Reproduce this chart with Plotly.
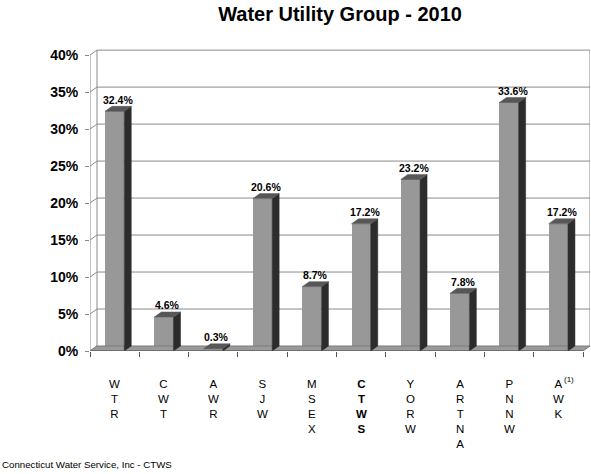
import plotly.graph_objects as go

# ---- data ----
categories = ["WTR", "CWT", "AWR", "SJW", "MSEX", "CTWS", "YORW", "ARTNA", "PNNW", "AWK"]
values = [32.4, 4.6, 0.3, 20.6, 8.7, 17.2, 23.2, 7.8, 33.6, 17.2]
ytick_vals = [0, 5, 10, 15, 20, 25, 30, 35, 40]
ytick_text = ["0%", "5%", "10%", "15%", "20%", "25%", "30%", "35%", "40%"]
bold_category = "CTWS"
footnote_category = "AWK"
title_text = "Water Utility Group - 2010"
footer_text = "Connecticut Water Service, Inc - CTWS"

# ---- style / geometry ----
FONT = "Arial, 'Liberation Sans', sans-serif"
W, H = 591, 474
ML, MR = 90, 1
BASE_Y = 351          # pixel of 0%
PX_PER_UNIT = 7.4     # pixels per percent
DX_PX, DY_PX = 7, 5   # 3D depth offset
n = len(categories)
plot_w = W - ML - MR
cat_px = plot_w / (n + DX_PX / 49.4)
dx = DX_PX / cat_px
dy = DY_PX / PX_PER_UNIT
ymax = 40 + dy + 0.15
plot_h = ymax * PX_PER_UNIT
MT = BASE_Y - plot_h
MB = H - BASE_Y
bw = 0.39

FRONT = "#989898"
SIDE = "#2c2c2c"
TOP = "#575757"
GRID = "#8a8a8a"

xs = list(range(n))
fig = go.Figure()

# floor
x0, x1 = -0.5, n - 0.5
fig.add_trace(go.Scatter(
    x=[x0, x1, x1 + dx, x0 + dx, x0], y=[0, 0, dy, dy, 0],
    fill="toself", fillcolor="#9a9a9a", mode="lines",
    line=dict(color="#7a7a7a", width=1), hoverinfo="skip", showlegend=False))

# front faces
fig.add_trace(go.Bar(x=xs, y=values, width=bw, marker=dict(color=FRONT, line=dict(width=0)),
                     hoverinfo="skip", showlegend=False))

# side faces
sx, sy = [], []
for c, v in zip(xs, values):
    r = c + bw / 2
    sx += [r, r + dx, r + dx, r, r, None]
    sy += [0, dy, v + dy, v, 0, None]
fig.add_trace(go.Scatter(x=sx, y=sy, fill="toself", fillcolor=SIDE, mode="lines",
                         line=dict(color=SIDE, width=0.5), hoverinfo="skip", showlegend=False))
# top faces
tx, ty = [], []
for c, v in zip(xs, values):
    l, r = c - bw / 2, c + bw / 2
    tx += [l, r, r + dx, l + dx, l, None]
    ty += [v, v, v + dy, v + dy, v, None]
fig.add_trace(go.Scatter(x=tx, y=ty, fill="toself", fillcolor=TOP, mode="lines",
                         line=dict(color=TOP, width=0.5), hoverinfo="skip", showlegend=False))

shapes = []
# back wall gridlines + left wall connectors
for v in ytick_vals:
    if v > 0:
        shapes.append(dict(type="line", xref="x", yref="y", x0=x0 + dx, x1=x1 + dx, y0=v + dy, y1=v + dy,
                           line=dict(color=GRID, width=1), layer="below"))
    shapes.append(dict(type="line", xref="x", yref="y", x0=x0, x1=x0 + dx, y0=v, y1=v + dy,
                       line=dict(color=GRID, width=1), layer="below"))
# back wall verticals
for xv in (x0 + dx, x1 + dx):
    shapes.append(dict(type="line", xref="x", yref="y", x0=xv, x1=xv, y0=dy, y1=40 + dy,
                       line=dict(color=GRID, width=1), layer="below"))
# front y axis line
shapes.append(dict(type="line", xref="x", yref="y", x0=x0, x1=x0, y0=0, y1=40,
                   line=dict(color=GRID, width=1)))
# front x axis line
shapes.append(dict(type="line", xref="x", yref="y", x0=x0, x1=x1, y0=0, y1=0,
                   line=dict(color="#555555", width=1)))

annotations = []
# value labels
for c, v in zip(xs, values):
    annotations.append(dict(x=c + dx / 2, y=v + dy, xref="x", yref="y", text=f"<b>{v:.1f}%</b>",
                            showarrow=False, yanchor="bottom", xanchor="center", yshift=-1.5,
                            font=dict(family=FONT, size=10.5, color="#000")))
# category labels
for c, name in zip(xs, categories):
    txt = "<br>".join(list(name))
    if name == bold_category:
        txt = "<b>" + txt + "</b>"
    annotations.append(dict(x=c, y=0, xref="x", yref="paper", text=txt, showarrow=False,
                            yanchor="top", xanchor="center", yshift=-25,
                            font=dict(family=FONT, size=11.5, color="#000")))
    if name == footnote_category:
        annotations.append(dict(x=c, y=0, xref="x", yref="paper", text="(1)", showarrow=False,
                                yanchor="top", xanchor="left", yshift=-22, xshift=4,
                                font=dict(family=FONT, size=8, color="#000")))
# footer (container position converted to paper coordinates)
annotations.append(dict(x=-ML / plot_w, y=(BASE_Y - 465) / plot_h, xref="paper", yref="paper",
                        text=footer_text, showarrow=False, xanchor="left", yanchor="middle",
                        font=dict(family=FONT, size=9.7, color="#000")))

fig.update_layout(
    width=W, height=H,
    margin=dict(l=ML, r=MR, t=MT, b=MB, pad=0),
    paper_bgcolor="white", plot_bgcolor="white",
    title=dict(text="<b>" + title_text + "</b>", x=0.5, xref="paper", xanchor="center",
               y=1 - 14 / H, yanchor="middle", font=dict(family=FONT, size=20, color="#000")),
    xaxis=dict(range=[x0, x1 + dx], showgrid=False, zeroline=False, showline=False,
               tickvals=[i - 0.5 for i in range(n + 1)], ticktext=[""] * (n + 1),
               ticks="outside", ticklen=5, tickcolor="#555555", showticklabels=False, fixedrange=True),
    yaxis=dict(range=[0, ymax], showgrid=False, zeroline=False, showline=False,
               tickvals=ytick_vals, ticktext=ytick_text, ticks="outside", ticklen=4,
               tickcolor=GRID, ticklabelstandoff=4,
               tickfont=dict(family=FONT, size=14, color="#000", weight="bold"), fixedrange=True),
    shapes=shapes, annotations=annotations, bargap=0,
)

fig.write_html("out.html", config={"displayModeBar": False},
               post_script="document.body.style.margin='0';document.body.style.overflow='hidden';")
